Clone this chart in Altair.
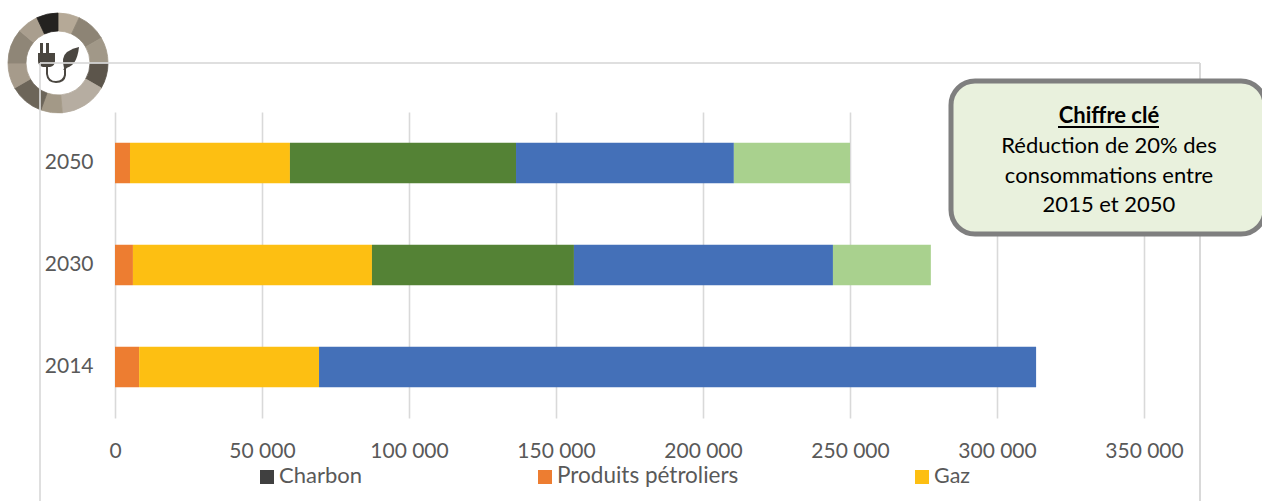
import altair as alt
import pandas as pd

# Consumption by energy carrier, one stacked bar per year
years = ["2050", "2030", "2014"]
series = ["Charbon", "Produits pétroliers", "Gaz", "Série 4", "Série 5", "Série 6"]
colors = ["#404040", "#ed7d31", "#fdbf12", "#548235", "#4470b8", "#a9d18e"]
values_2050 = [0, 5100, 54400, 76900, 74100, 39500]
values_2030 = [0, 6100, 81300, 68700, 88100, 33300]
values_2014 = [0, 8200, 61200, 0, 243900, 0]

# Logo ring: share of each segment and its shade, clockwise from twelve o'clock
ring_shares = [25, 35, 30, 30, 55, 25, 40, 30, 40, 25, 25]
ring_shades = ["#b5a997", "#8d8475", "#a19888", "#5c554b", "#b6ada1", "#a39987",
               "#6c6559", "#a69b8b", "#8f8677", "#a99e8e", "#242220"]

box_title = "Chiffre clé"
box_lines = ["Réduction de 20% des", "consommations entre", "2015 et 2050"]
legend_labels = ["Charbon", "Produits pétroliers", "Gaz"]
legend_colors = ["#404040", "#ed7d31", "#fdbf12"]

FONT = "Lato"
LEFT, TOP, WIDTH, HEIGHT = 115, 112, 1029, 306


def px(x):
    return alt.value(x - LEFT)


def py(y):
    return alt.value(y - TOP)


def blank():
    return alt.Chart(alt.Data(values=[{"k": 1}]))


def rect(x1, x2, y1, y2, **mark):
    return blank().mark_rect(**mark).encode(x=px(x1), x2=px(x2), y=py(y1), y2=py(y2))


def label(text, x, y, **mark):
    style = dict(font=FONT, fontSize=22, baseline="alphabetic")
    style.update(mark)
    return blank().mark_text(**style).encode(x=px(x), y=py(y), text=alt.value(text))


rows = []
for year, vals in zip(years, [values_2050, values_2030, values_2014]):
    for order, (name, val) in enumerate(zip(series, vals)):
        rows.append({"annee": year, "energie": name, "rang": order, "valeur": val})
table = pd.DataFrame(rows)

bars = alt.Chart(table).mark_bar(size=40.5).encode(
    x=alt.X(
        "valeur:Q",
        stack="zero",
        title=None,
        scale=alt.Scale(domain=[0, 350000], nice=False),
        axis=alt.Axis(
            values=[0, 50000, 100000, 150000, 200000, 250000, 300000, 350000],
            labelExpr="replace(format(datum.value, ','), ',', ' ')",
            grid=True, gridColor="#d9d9d9", gridWidth=1.6,
            domain=False, ticks=False, labelPadding=22, labelFlush=False,
            labelFont=FONT, labelFontSize=21, labelColor="#595959",
        ),
    ),
    y=alt.Y(
        "annee:N",
        sort=years,
        title=None,
        scale=alt.Scale(paddingInner=0.6, paddingOuter=0.3),
        axis=alt.Axis(
            domain=False, ticks=False, grid=False, labelPadding=22,
            labelFont=FONT, labelFontSize=21, labelColor="#595959",
        ),
    ),
    color=alt.Color("energie:N", scale=alt.Scale(domain=series, range=colors), legend=None),
    order=alt.Order("rang:Q"),
)

# Logo: shaded ring plus a plug joined by its cord to a leaf
ring_table = pd.DataFrame({"part": ring_shares, "teinte": ring_shades, "rang": range(len(ring_shares))})
ring = alt.Chart(ring_table).mark_arc(radius=50, radius2=32, strokeWidth=0.8).encode(
    theta=alt.Theta("part:Q", stack=True),
    order=alt.Order("rang:Q"),
    color=alt.Color("teinte:N", scale=None),
    stroke=alt.Color("teinte:N", scale=None),
    x=px(58),
    y=py(63),
)
plug_path = (
    "M-18,-20 L-15,-20 L-15,-10 L-12,-10 L-12,-20 L-9,-20 L-9,-10 L-3,-10 "
    "L-3,-2 Q-3,3 -8,4 L-8,4 L-15,4 Q-20,3 -20,-2 L-20,-10 L-18,-10 Z"
)
leaf_path = "M6,5 Q3,-6 9,-11 Q15,-15 21,-16 Q20,-6 16,0 Q12,5 6,5 Z"
cord_path = "M-11,3 L-11,11 Q-10,19 -2,19 Q6,19 7,12 L7,5 M6,7 L16,-6"
plug = blank().mark_point(shape=plug_path, size=4, filled=True, fill="#4a4640", opacity=1).encode(x=px(58), y=py(63))
leaf = blank().mark_point(shape=leaf_path, size=4, filled=True, fill="#4a4640", opacity=1).encode(x=px(58), y=py(63))
cord = blank().mark_point(shape=cord_path, size=4, filled=False, stroke="#4a4640", strokeWidth=2, opacity=1).encode(x=px(58), y=py(63))

# Light frame around the chart, open at the bottom
frame = [
    rect(40, 1200, 62, 64, color="#d9d9d9", opacity=0.85),
    rect(39, 41, 63, 501, color="#d9d9d9", opacity=0.85),
    rect(1199, 1201, 63, 501, color="#d9d9d9"),
]

# Key-figure callout
box = rect(951, 1265, 81, 234, fill="#e9f1dd", stroke="#7f7f7f", strokeWidth=5, cornerRadius=24)
box_marks = [
    label(box_title, 1109, 123, fontWeight="bold", color="#000000", align="center"),
    rect(1058, 1159, 126, 128, color="#000000"),
]
for text, base in zip(box_lines, [153, 183, 212]):
    box_marks.append(label(text, 1109, base, color="#000000", align="center"))

# Hand-spaced key below the axis
key_marks = []
for text, fill, x0, wid, size in zip(legend_labels, legend_colors, [260, 538, 915], [14, 14, 14], [22, 22.5, 21.5]):
    key_marks.append(rect(x0, x0 + wid, 470, 484, color=fill))
    key_marks.append(label(text, x0 + wid + 5, 483, color="#595959", align="left", fontSize=size))

chart = alt.layer(
    bars, ring, plug, leaf, cord, *frame, box, *box_marks, *key_marks
).resolve_scale(
    color="independent"
).properties(
    width=WIDTH,
    height=HEIGHT,
    padding={"left": LEFT, "top": TOP, "right": 1262 - LEFT - WIDTH, "bottom": 501 - TOP - HEIGHT},
    autosize=alt.AutoSizeParams(type="none"),
    background="#ffffff",
).configure_view(stroke=None)

chart.save("out.html", embed_options={"renderer": "svg", "actions": False})
